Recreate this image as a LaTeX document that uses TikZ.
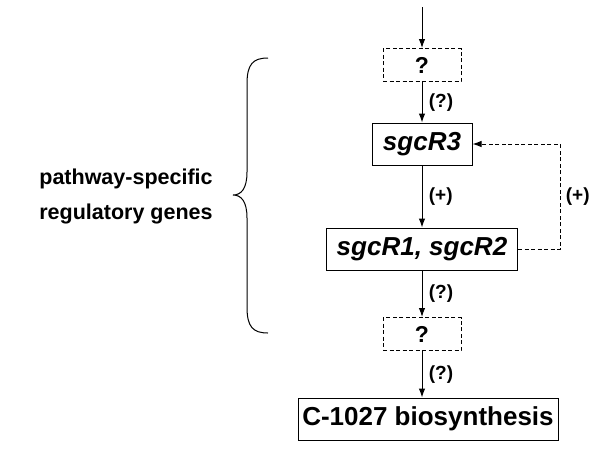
\documentclass[tikz,border=0pt]{standalone}
\usepackage{fontspec}
\setmainfont{Liberation Sans}
\usetikzlibrary{arrows.meta}
\begin{document}
\begin{tikzpicture}[x=1pt,y=-1pt,line width=1pt,
    arr/.style={-{Latex[length=9pt,width=6.5pt]}},
    dashline/.style={dash pattern=on 4pt off 2.5pt},
    genebox/.style={draw,minimum height=42pt,inner sep=0pt,font=\bfseries\itshape\fontsize{26}{31}\selectfont},
    unknown/.style={draw,dashline,minimum width=78pt,minimum height=33pt,inner sep=0pt,font=\bfseries\fontsize{23}{27}\selectfont},
    effect/.style={font=\bfseries\fontsize{19}{23}\selectfont}]
    \useasboundingbox (0,0) rectangle (600,448);
    \coordinate (top) at (422,7);
    \node[unknown] (q1) at (422,65) {?};
    \node[genebox,minimum width=100pt] (r3) at (422,144) {sgcR3};
    \node[genebox,minimum width=191pt] (r12) at (422,249) {sgcR1, sgcR2};
    \node[unknown] (q2) at (422,334) {?};
    \node[genebox,font=\bfseries\fontsize{26}{31}\selectfont,minimum width=260pt] (prod) at (428,419) {C-1027 biosynthesis};
    \draw[arr] (top) -- (q1);
    \draw[arr] (q1) -- (r3) node[effect,midway,right=3pt] {(?)};
    \draw[arr] (r3) -- (r12) node[effect,midway,right=3pt] {(+)};
    \draw[arr] (r12) -- (q2) node[effect,midway,right=3pt] {(?)};
    \draw[arr] (q2) -- (q2|-prod.north) node[effect,midway,right=3pt] {(?)};
    % feedback loop
    \draw[arr,dashline] (r12.east) -- ++(42,0) |- (r3.east) node[effect,pos=0.25,right=2pt] {(+)};
    % brace and its label
    \draw (268,58) .. controls (253,58) and (247,64) .. (247,84) -- (247,172)
        .. controls (247,189) and (241,195) .. (233,195)
        .. controls (241,195) and (247,201) .. (247,218) -- (247,307)
        .. controls (247,327) and (253,333) .. (268,333);
    \node[align=left,font=\bfseries\fontsize{21.5}{35}\selectfont] (genes) at (126,196) {pathway-specific\\regulatory genes};
\end{tikzpicture}
\end{document}
